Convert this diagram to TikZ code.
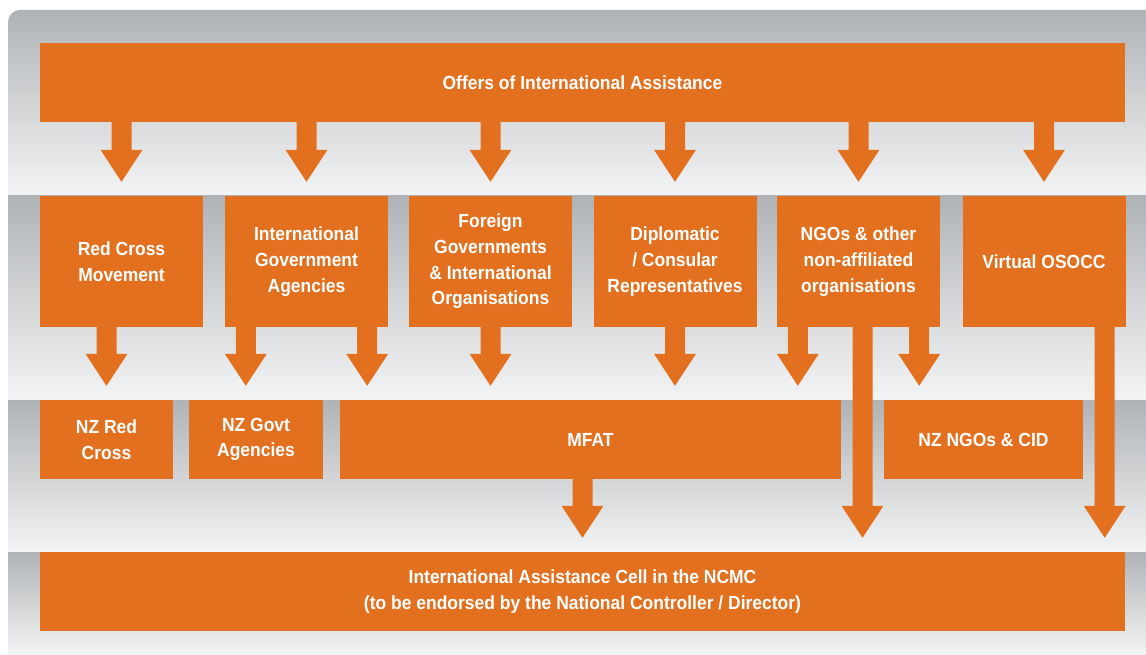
\documentclass[tikz,border=0pt]{standalone}
\usepackage{fontspec}
\setmainfont{Liberation Sans}
\newfontfamily\boxfont{Liberation Sans}[FakeStretch=0.92]
\usetikzlibrary{calc}
\definecolor{orng}{RGB}{227,112,31}
\definecolor{bandtop}{RGB}{176,179,182}
\definecolor{bandmid}{RGB}{224,226,228}
\definecolor{bandbot}{RGB}{243,244,245}
\newcommand\blockarrow[2]{\fill[orng] let \p1=(#1), \p2=(#2) in (\x1-10pt,\y1) -- (\x1-10pt,\y2+46pt) -- (\x1-21pt,\y2+46pt) -- (\x1,\y2+14pt) -- (\x1+21pt,\y2+46pt) -- (\x1+10pt,\y2+46pt) -- (\x1+10pt,\y1) -- cycle;}

\begin{document}
\begin{tikzpicture}[x=1pt, y=-1pt,
	box/.style={fill=orng, text=white, align=center, inner sep=0pt, font=\boxfont\bfseries\fontsize{19}{25.7}\selectfont},
	band/.style={top color=bandtop, middle color=bandmid, bottom color=bandbot}]
			%%%%% START %%%%%
			\useasboundingbox (0, 0) rectangle (1146, 655);
			
			\begin{scope}
				\clip[rounded corners=12pt] (8, 10) rectangle (1180, 690);
				\shade[band] (0, 10) rectangle (1146, 196);
				\shade[band] (0, 196) rectangle (1146, 400);
				\shade[band] (0, 400) rectangle (1146, 552);
				\shade[band] (0, 552) rectangle (1146, 655);
			\end{scope}
			
			\node[box, minimum width=1085pt, minimum height=79pt] (offers) at (582.5, 82.5) {Offers of International Assistance};
			
			\node[box, minimum width=163pt, minimum height=131pt] (rc) at (121.5, 261.5) {Red Cross\\Movement};
			\node[box, minimum width=163pt, minimum height=131pt] (iga) at (306.5, 261.5) {International\\Government\\Agencies};
			\node[box, minimum width=163pt, minimum height=131pt] (fg) at (490.5, 261.5) {Foreign\\Governments\\\& International\\Organisations};
			\node[box, minimum width=163pt, minimum height=131pt] (dip) at (675, 261.5) {Diplomatic\\/ Consular\\Representatives};
			\node[box, minimum width=163pt, minimum height=131pt] (ngo) at (858.5, 261.5) {NGOs \& other\\non-affiliated\\organisations};
			\node[box, minimum width=163pt, minimum height=131pt] (vosocc) at (1044, 261.5) {Virtual OSOCC};
			
			\node[box, minimum width=133pt, minimum height=79pt] (nzrc) at (106.5, 439.5) {NZ Red\\Cross};
			\node[box, minimum width=134pt, minimum height=79pt] (nzgov) at (256, 439.5) {NZ Govt\\Agencies};
			\node[box, minimum width=501pt, minimum height=79pt] (mfat) at (590.5, 439.5) {MFAT};
			\node[box, minimum width=199pt, minimum height=79pt] (nzngo) at (983.5, 439.5) {NZ NGOs \& CID};
			
			\node[box, minimum width=1085pt, minimum height=79pt] (ncmc) at (582.5, 591.5) {International Assistance Cell in the NCMC\\(to be endorsed by the National Controller / Director)};
			
			\blockarrow{offers.south -| rc}{rc.north}
			\blockarrow{offers.south -| iga}{iga.north}
			\blockarrow{offers.south -| fg}{fg.north}
			\blockarrow{offers.south -| dip}{dip.north}
			\blockarrow{offers.south -| ngo}{ngo.north}
			\blockarrow{offers.south -| vosocc}{vosocc.north}
			
			\blockarrow{rc.south -| nzrc}{nzrc.north}
			\blockarrow{$(iga.south west)+(21, 0)$}{nzgov.north}
			\blockarrow{$(iga.south east)+(-21, 0)$}{mfat.north}
			\blockarrow{fg.south}{mfat.north}
			\blockarrow{dip.south}{mfat.north}
			\blockarrow{$(ngo.south west)+(21, 0)$}{mfat.north}
			\blockarrow{$(ngo.south east)+(-21, 0)$}{nzngo.north}
			
			\blockarrow{$(ngo.south)+(4, 0)$}{ncmc.north}
			\blockarrow{$(vosocc.south east)+(-21, 0)$}{ncmc.north}
			\blockarrow{mfat.south -| ncmc}{ncmc.north}
			
			%%%%% END %%%%%
\end{tikzpicture}
\end{document}
